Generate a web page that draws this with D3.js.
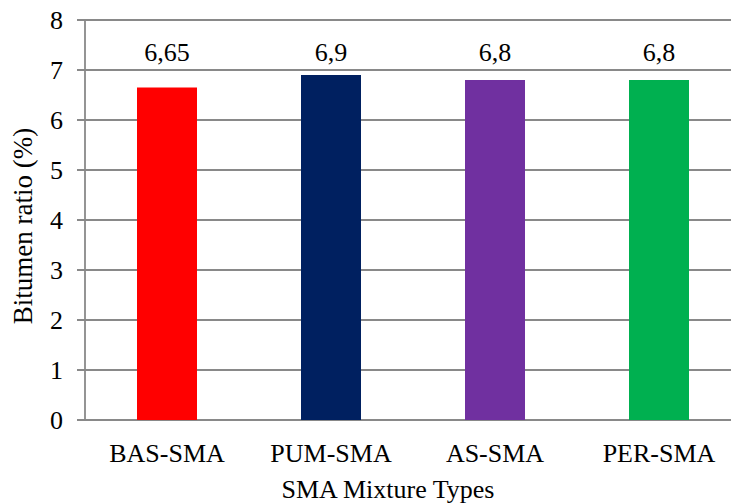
<!DOCTYPE html>
<html>
<head>
  <meta charset="utf-8">
  <style>
    body { margin: 0; padding: 0; background: #fff; }
    svg { display: block; }
    .grid line { stroke: #898989; stroke-width: 1.8; }
  </style>
</head>
<body>
<svg class="chart"></svg>
<script src="https://d3js.org/d3.v7.min.js"></script>
<script>
var categories = ["BAS-SMA", "PUM-SMA", "AS-SMA", "PER-SMA"];
var values = [6.65, 6.9, 6.8, 6.8];
var labels = ["6,65", "6,9", "6,8", "6,8"];
var colors = ["#ff0000", "#002060", "#7030a0", "#00b050"];
var yTicks = [0, 1, 2, 3, 4, 5, 6, 7, 8];

var W = 731, H = 504;
var plotL = 85, plotT = 20, plotB = 420, plotR = 741;

var svg = d3.select(".chart").attr("width", W).attr("height", H);

var x = d3.scaleBand().domain(categories).range([plotL, plotR]).paddingInner(0).paddingOuter(0);
var y = d3.scaleLinear().domain([0, 8]).range([plotB, plotT]);

// gridlines + ticks
var grid = svg.append("g").attr("class", "grid");
grid.selectAll("line").data(yTicks).enter().append("line")
  .attr("x1", plotL - 8).attr("x2", W)
  .attr("y1", function(d) { return y(d); })
  .attr("y2", function(d) { return y(d); });
grid.append("line")
  .attr("x1", plotL).attr("x2", plotL)
  .attr("y1", plotT).attr("y2", plotB);

function txt(sel, size) {
  return sel.style("font-family", "'Liberation Serif'").style("font-size", size + "px").attr("fill", "#000");
}

// tick labels
txt(svg.append("g").selectAll("text").data(yTicks).enter().append("text")
  .attr("x", 63).attr("y", function(d) { return y(d); })
  .attr("dy", "0.35em").attr("text-anchor", "end")
  .text(function(d) { return d; }), 26);

// bars
var bw = 60;
svg.append("g").selectAll("rect").data(categories).enter().append("rect")
  .attr("x", function(d) { return x(d) + x.bandwidth() / 2 - bw / 2; })
  .attr("width", bw)
  .attr("y", function(d, i) { return y(values[i]); })
  .attr("height", function(d, i) { return plotB - y(values[i]); })
  .attr("fill", function(d, i) { return colors[i]; });

// value labels
txt(svg.append("g").selectAll("text").data(categories).enter().append("text")
  .attr("x", function(d) { return x(d) + x.bandwidth() / 2; })
  .attr("y", 61)
  .attr("text-anchor", "middle")
  .text(function(d, i) { return labels[i]; }), 26);

// category labels
txt(svg.append("g").selectAll("text").data(categories).enter().append("text")
  .attr("x", function(d) { return x(d) + x.bandwidth() / 2; })
  .attr("y", 462)
  .attr("text-anchor", "middle")
  .text(function(d) { return d; }), 26);

// axis titles
txt(svg.append("text")
  .attr("x", 388).attr("y", 498)
  .attr("text-anchor", "middle")
  .text("SMA Mixture Types"), 26);

txt(svg.append("text")
  .attr("transform", "translate(32," + 226 + ") rotate(-90)")
  .attr("text-anchor", "middle")
  .text("Bitumen ratio (%)"), 27);
</script>
</body>
</html>
